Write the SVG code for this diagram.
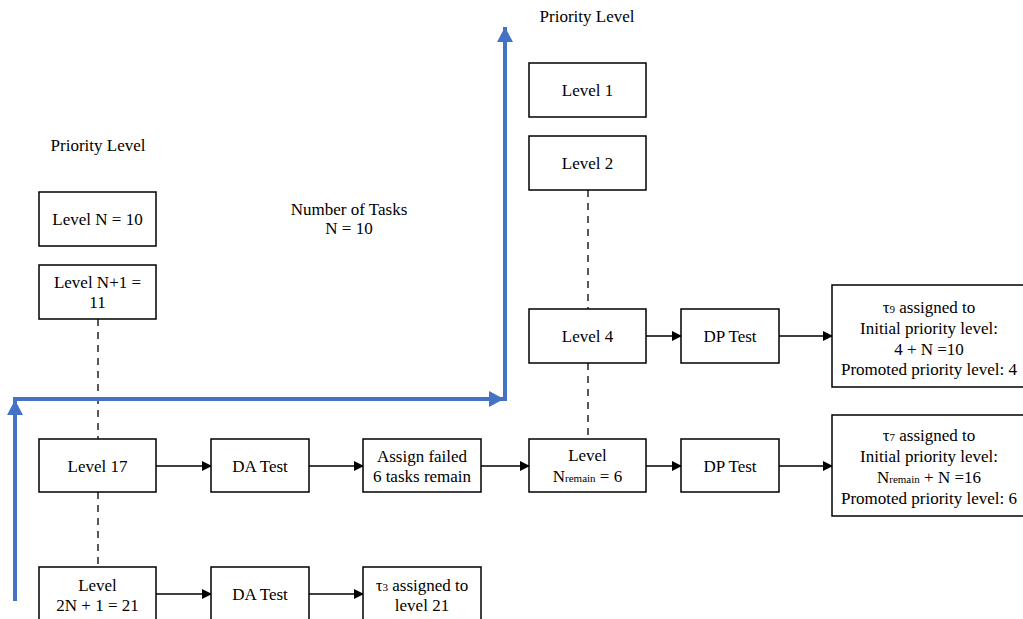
<svg xmlns="http://www.w3.org/2000/svg" width="1023" height="619" viewBox="0 0 1023 619" font-family="'Liberation Serif', 'Times New Roman', Tinos, serif">
<style>
text{font-family:'Liberation Serif', 'Times New Roman', Tinos, serif;font-size:17px;fill:#000;text-anchor:middle}
.sub{font-size:11px}
.box{fill:#fff;stroke:#000;stroke-width:1.5}
.dash{stroke:#000;stroke-width:1.3;stroke-dasharray:7,6;fill:none}
.arr{stroke:#000;stroke-width:1.3;fill:none;marker-end:url(#ah)}
.blue{stroke:#4472C4;stroke-width:4;fill:none}
</style>
<defs>
<marker id="ah" markerWidth="10" markerHeight="10" refX="9" refY="5" orient="auto" markerUnits="userSpaceOnUse">
<path d="M0,0 L10,5 L0,10 z" fill="#000"/>
</marker>
<marker id="bh" markerWidth="16" markerHeight="16" refX="15" refY="8" orient="auto" markerUnits="userSpaceOnUse">
<path d="M0,0 L15,8 L0,16 z" fill="#4472C4"/>
</marker>
</defs>
<rect width="1023" height="619" fill="#fff"/>
<g id="labels">
<text x="98" y="151">Priority Level</text>
<text x="587" y="22">Priority Level</text>
<text x="349" y="215">Number of Tasks</text>
<text x="349" y="234">N = 10</text>
</g>
<g id="connectors">
<line class="dash" x1="98" y1="319" x2="98" y2="439"/>
<line class="dash" x1="98" y1="492" x2="98" y2="567"/>
<line class="dash" x1="588" y1="190" x2="588" y2="309"/>
<line class="dash" x1="588" y1="363" x2="588" y2="439"/>
<line class="arr" x1="156" y1="466" x2="211" y2="466"/>
<line class="arr" x1="309" y1="466" x2="363" y2="466"/>
<line class="arr" x1="481" y1="466" x2="529" y2="466"/>
<line class="arr" x1="646" y1="466" x2="681" y2="466"/>
<line class="arr" x1="779" y1="466" x2="832" y2="466"/>
<line class="arr" x1="646" y1="336" x2="681" y2="336"/>
<line class="arr" x1="779" y1="336" x2="832" y2="336"/>
<line class="arr" x1="156" y1="594" x2="211" y2="594"/>
<line class="arr" x1="309" y1="594" x2="363" y2="594"/>
<line class="blue" x1="15" y1="601" x2="15" y2="400" marker-end="url(#bh)"/>
<line class="blue" x1="13" y1="399" x2="504" y2="399" marker-end="url(#bh)"/>
<line class="blue" x1="505" y1="401" x2="505" y2="27" marker-end="url(#bh)"/>
</g>
<g id="levelN"><rect class="box" x="39" y="192" width="117" height="54"/><text x="97.5" y="225">Level N = 10</text></g>
<g id="levelN1"><rect class="box" x="39" y="265" width="117" height="54"/><text x="97.5" y="288">Level N+1 =</text><text x="97.5" y="308">11</text></g>
<g id="level17"><rect class="box" x="39" y="439" width="117" height="53"/><text x="97.5" y="472">Level 17</text></g>
<g id="datest1"><rect class="box" x="211" y="439" width="98" height="53"/><text x="260" y="472">DA Test</text></g>
<g id="assignfailed"><rect class="box" x="363" y="439" width="118" height="53"/><text x="422" y="462">Assign failed</text><text x="422" y="482">6 tasks remain</text></g>
<g id="level21"><rect class="box" x="39" y="567" width="117" height="60"/><text x="97.5" y="591">Level</text><text x="97.5" y="611">2N + 1 = 21</text></g>
<g id="datest2"><rect class="box" x="211" y="567" width="98" height="60"/><text x="260" y="600">DA Test</text></g>
<g id="tau3"><rect class="box" x="363" y="567" width="118" height="60"/><text x="422" y="591">τ<tspan class="sub">3</tspan> assigned to</text><text x="422" y="611">level 21</text></g>
<g id="level1"><rect class="box" x="529" y="63" width="117" height="54"/><text x="587.5" y="96">Level 1</text></g>
<g id="level2"><rect class="box" x="529" y="136" width="117" height="54"/><text x="587.5" y="169">Level 2</text></g>
<g id="level4"><rect class="box" x="529" y="309" width="117" height="54"/><text x="587.5" y="342">Level 4</text></g>
<g id="dptest1"><rect class="box" x="681" y="309" width="98" height="54"/><text x="730" y="342">DP Test</text></g>
<g id="tau9"><rect class="box" x="832" y="285" width="196" height="102"/><text x="929" y="313">τ<tspan class="sub">9</tspan> assigned to</text><text x="929" y="334">Initial priority level:</text><text x="929" y="355">4 + N =10</text><text x="929" y="375">Promoted priority level: 4</text></g>
<g id="levelNremain"><rect class="box" x="529" y="439" width="117" height="53"/><text x="587.5" y="461">Level</text><text x="587.5" y="482">N<tspan class="sub">remain</tspan> = 6</text></g>
<g id="dptest2"><rect class="box" x="681" y="439" width="98" height="53"/><text x="730" y="472">DP Test</text></g>
<g id="tau7"><rect class="box" x="832" y="415" width="196" height="101"/><text x="929" y="441">τ<tspan class="sub">7</tspan> assigned to</text><text x="929" y="462">Initial priority level:</text><text x="929" y="483">N<tspan class="sub">remain</tspan> + N =16</text><text x="929" y="504">Promoted priority level: 6</text></g>
</svg>
